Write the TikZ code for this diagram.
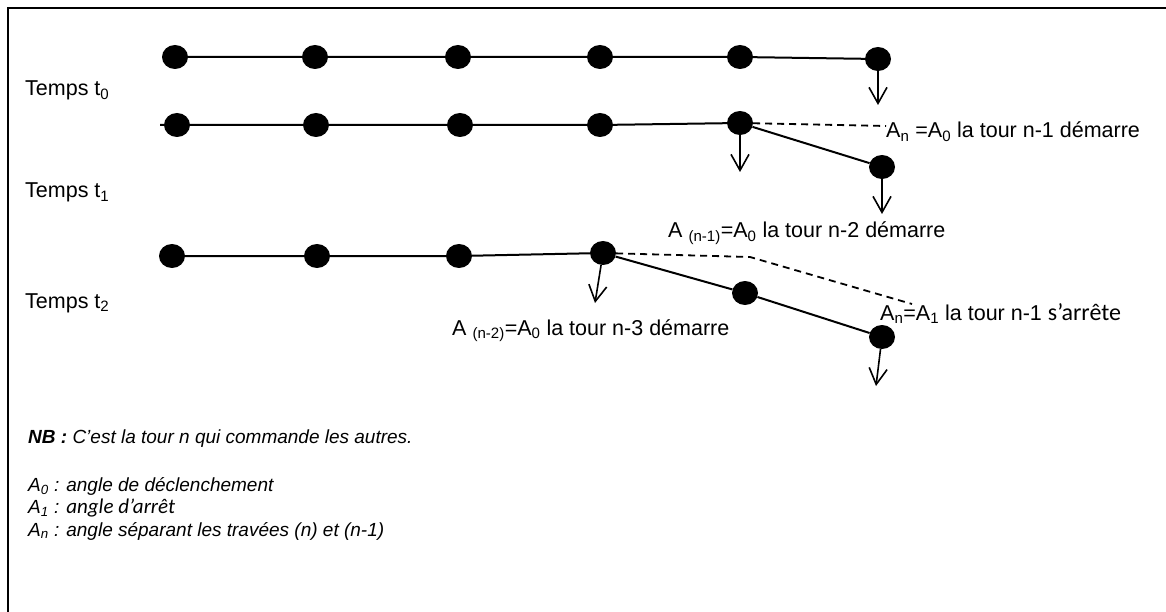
\documentclass[tikz,border=0pt]{standalone}
\usepackage{fontspec}
\setmainfont{Liberation Sans}
\newfontfamily\calib{Carlito}
\usetikzlibrary{arrows.meta,shapes.geometric}

\begin{document}
\begin{tikzpicture}[x=1pt,y=-1pt,
    tower/.style={ellipse,fill=black,inner sep=0pt,minimum width=26pt,minimum height=24pt},
    span/.style={line width=2pt},
    link/.style={line width=1.8pt,dash pattern=on 7pt off 5pt},
    fall/.style={line width=1.6pt,-{Straight Barb[length=16pt,width=18pt]}},
    lbl/.style={anchor=base west,inner sep=0pt,font=\fontsize{21.5}{25}\selectfont},
    note/.style={anchor=base west,inner sep=0pt,font=\fontsize{19}{22}\selectfont\itshape}]
                \useasboundingbox (0,0) rectangle (1166,612);
                \draw[line width=2.6pt] (8,612) -- (8,8) -- (1166,8);
                % temps t0
                \foreach \x [count=\i] in {175,315,458,600,740}
                    \node[tower] (a\i) at (\x,57) {};
                \node[tower] (a6) at (878,59) {};
                \coordinate (a6d) at (878,105);
                \draw[span] (a1) -- (a2) -- (a3) -- (a4) -- (a5) -- (a6);
                \draw[fall] (a6) -- (a6d);
                % temps t1
                \coordinate (b0) at (160,125);
                \foreach \x [count=\i] in {177,316,460,600}
                    \node[tower] (b\i) at (\x,125) {};
                \node[tower] (b5) at (740,123) {};
                \node[tower] (b6) at (882,167) {};
                \coordinate (b5r) at (886,126);
                \coordinate (b5d) at (740,172);
                \coordinate (b6d) at (882,214);
                \draw[span] (b0) -- (b1) -- (b2) -- (b3) -- (b4) -- (b5) -- (b6);
                \draw[link] (b5) -- (b5r);
                \draw[fall] (b5) -- (b5d);
                \draw[fall] (b6) -- (b6d);
                % temps t2
                \foreach \x [count=\i] in {172,317,459}
                    \node[tower] (c\i) at (\x,256) {};
                \node[tower] (c4) at (603,253) {};
                \node[tower] (c5) at (745,293) {};
                \node[tower] (c6) at (882,337) {};
                \coordinate (c4k) at (750,257);
                \coordinate (c4r) at (912,304);
                \coordinate (c4d) at (595,303);
                \coordinate (c6d) at (876,386);
                \draw[span] (c1) -- (c2) -- (c3) -- (c4) -- (c5) -- (c6);
                \draw[link] (c4) -- (c4k) -- (c4r);
                \draw[fall] (c4) -- (c4d);
                \draw[fall] (c6) -- (c6d);
                % labels
                \node[lbl] (t0) at (25,96) {Temps t\textsubscript{0}};
                \node[lbl] (t1) at (25,198) {Temps t\textsubscript{1}};
                \node[lbl] (t2) at (25,308) {Temps t\textsubscript{2}};
                \node[lbl] (s1) at (886,138) {A\textsubscript{n} =A\textsubscript{0} la tour n-1 démarre};
                \node[lbl] (s2) at (668,238) {A \textsubscript{(n-1)}=A\textsubscript{0} la tour n-2 démarre};
                \node[lbl] (s3) at (452,335) {A \textsubscript{(n-2)}=A\textsubscript{0} la tour n-3 démarre};
                \node[lbl] (s4) at (880,320) {A\textsubscript{n}=A\textsubscript{1} la tour n-1 {\calib\fontsize{24}{28}\selectfont s’arrête}};
                % notes
                \node[note] (nb) at (28,443) {\textbf{NB :} C’est la tour n qui commande les autres.};
                \node[note] (k0) at (28,491) {A\textsubscript{0} : angle de déclenchement};
                \node[note] (k1) at (28,513) {A\textsubscript{1} : {\calib\fontsize{21}{24}\selectfont angle d’arrêt}};
                \node[note] (kn) at (28,536) {A\textsubscript{n} : angle séparant les travées (n) et (n-1)};
            \end{tikzpicture}
\end{document}
